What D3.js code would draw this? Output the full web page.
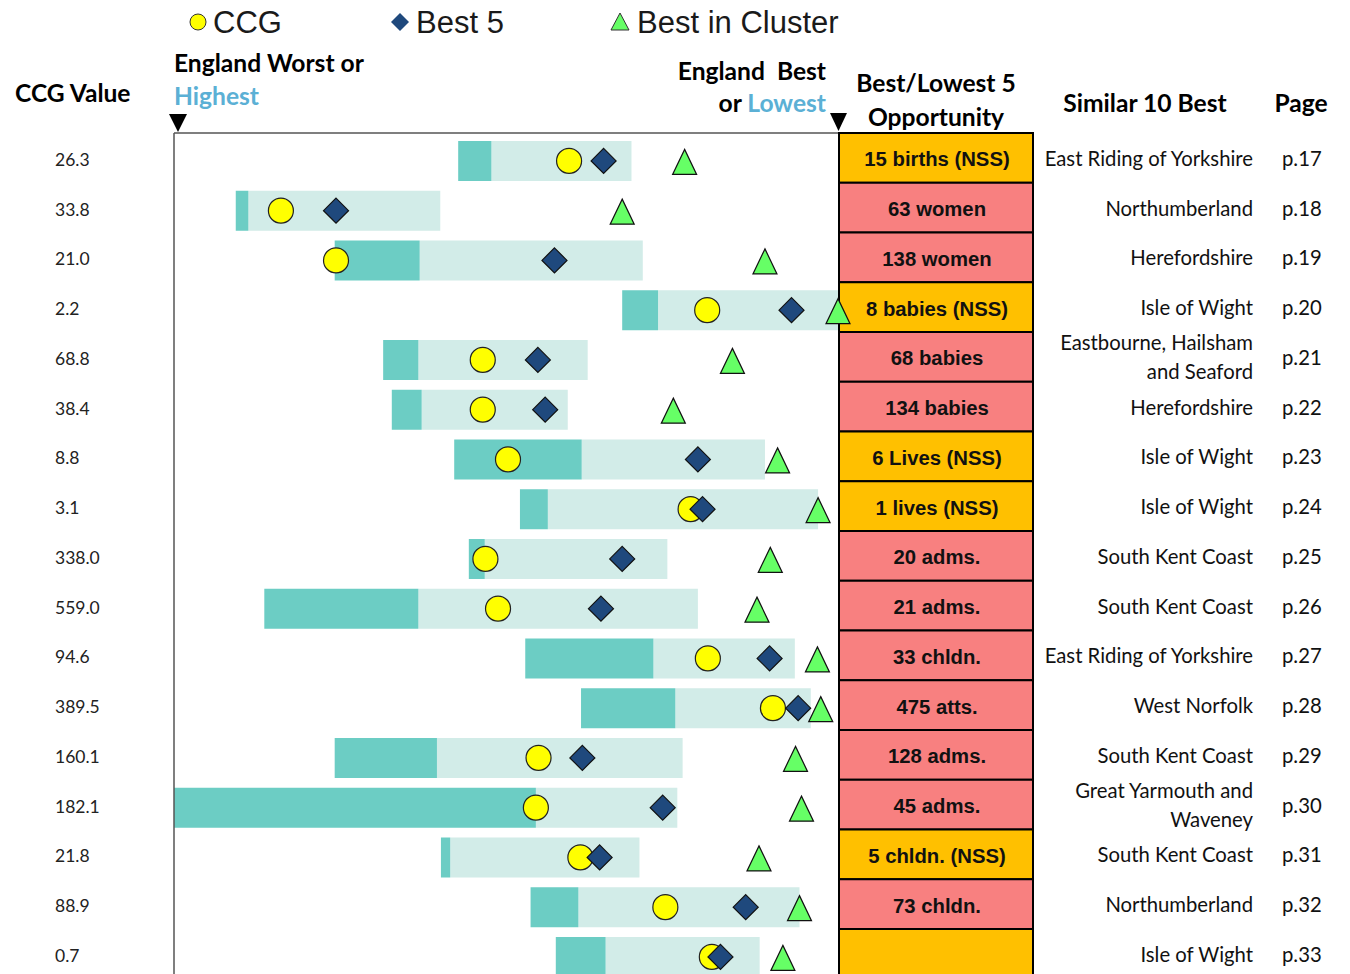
<!DOCTYPE html>
<meta charset="utf-8">
<style>
body {
  margin: 0;
  background: #fff;
}
text {
  font-family: Lato, "Open Sans", sans-serif;
}
.legend, .opp {
  font-family: "Liberation Sans", Arial, sans-serif;
}
</style>
<body>
<script src="https://d3js.org/d3.v7.min.js"></script>
<script>

var width = 1350,
    height = 974;

// values shown in the CCG Value column
var ccgValues = ["26.3", "33.8", "21.0", "2.2", "68.8", "38.4", "8.8", "3.1", "338.0",
  "559.0", "94.6", "389.5", "160.1", "182.1", "21.8", "88.9", "0.7"];

// positions on a 0 (England worst) .. 100 (England best) scale
var barStart = [42.8, 9.3, 24.2, 67.5, 31.5, 32.8, 42.2, 52.1, 44.4, 13.6, 52.9, 61.3, 24.2, 0.0, 40.2, 53.7, 57.5];
var barMid   = [47.8, 11.2, 37.0, 72.9, 36.8, 37.3, 61.4, 56.3, 46.8, 36.8, 72.2, 75.5, 39.6, 54.5, 41.6, 60.9, 65.0];
var barEnd   = [68.9, 40.1, 70.6, 100, 62.3, 59.3, 89.0, 97.0, 74.3, 78.9, 93.5, 95.9, 76.6, 75.8, 70.1, 94.2, 88.2];
var ccg      = [59.5, 16.1, 24.4, 80.3, 46.5, 46.5, 50.3, 77.8, 46.9, 48.8, 80.4, 90.2, 54.9, 54.5, 61.2, 74.0, 81.0];
var best5    = [64.7, 24.4, 57.3, 93.0, 54.8, 55.9, 78.9, 79.6, 67.5, 64.3, 89.7, 94.0, 61.5, 73.6, 64.1, 86.1, 82.3];
var bestCluster = [76.9, 67.5, 89.0, 100, 84.1, 75.2, 90.9, 97.0, 89.8, 87.8, 96.9, 97.4, 93.6, 94.5, 88.1, 94.2, 91.7];

var opportunity = ["15 births (NSS)", "63 women", "138 women", "8 babies (NSS)", "68 babies",
  "134 babies", "6 Lives (NSS)", "1 lives (NSS)", "20 adms.", "21 adms.", "33 chldn.",
  "475 atts.", "128 adms.", "45 adms.", "5 chldn. (NSS)", "73 chldn.", ""];
var nss = [true, false, false, true, false, false, true, true, false, false, false,
  false, false, false, true, false, true];

var similar = [["East Riding of Yorkshire"], ["Northumberland"], ["Herefordshire"], ["Isle of Wight"],
  ["Eastbourne, Hailsham", "and Seaford"], ["Herefordshire"], ["Isle of Wight"], ["Isle of Wight"],
  ["South Kent Coast"], ["South Kent Coast"], ["East Riding of Yorkshire"], ["West Norfolk"],
  ["South Kent Coast"], ["Great Yarmouth and", "Waveney"], ["South Kent Coast"], ["Northumberland"],
  ["Isle of Wight"]];
var pages = ["p.17", "p.18", "p.19", "p.20", "p.21", "p.22", "p.23", "p.24", "p.25", "p.26",
  "p.27", "p.28", "p.29", "p.30", "p.31", "p.32", "p.33"];

var rows = d3.range(ccgValues.length);

var x = d3.scaleLinear()
  .domain([0, 100])
  .range([174, 838]);

var y = d3.scaleBand()
  .domain(rows)
  .range([133, 133 + 49.75 * rows.length]);

var bh = y.bandwidth();
function cy(i) { return y(i) + bh / 2 + 3; }

var svg = d3.select("body").append("svg")
    .attr("width", width)
    .attr("height", height);

// bars
var bars = svg.append("g");
bars.selectAll(".light")
    .data(rows)
  .enter().append("rect")
    .attr("x", function(i) { return x(barMid[i]); })
    .attr("y", function(i) { return y(i) + 8; })
    .attr("width", function(i) { return x(barEnd[i]) - x(barMid[i]); })
    .attr("height", 40)
    .attr("fill", "#d2ece8");
bars.selectAll(".dark")
    .data(rows)
  .enter().append("rect")
    .attr("x", function(i) { return x(barStart[i]); })
    .attr("y", function(i) { return y(i) + 8; })
    .attr("width", function(i) { return x(barMid[i]) - x(barStart[i]); })
    .attr("height", 40)
    .attr("fill", "#6ccdc4");

// frame
svg.append("line")
    .attr("x1", 174).attr("x2", 174)
    .attr("y1", 133).attr("y2", height)
    .attr("stroke", "#555").attr("stroke-width", 1.5);
svg.append("line")
    .attr("x1", 174).attr("x2", 838)
    .attr("y1", 133).attr("y2", 133)
    .attr("stroke", "#555").attr("stroke-width", 1.5);

// opportunity boxes
var boxes = svg.append("g");
boxes.selectAll("rect")
    .data(rows)
  .enter().append("rect")
    .attr("x", 839)
    .attr("y", function(i) { return y(i); })
    .attr("width", 194)
    .attr("height", bh)
    .attr("fill", function(i) { return nss[i] ? "#ffc000" : "#f88080"; })
    .attr("stroke", "#000")
    .attr("stroke-width", 2);
boxes.selectAll("text")
    .data(rows)
  .enter().append("text")
    .attr("class", "opp")
    .attr("x", 937)
    .attr("y", function(i) { return y(i) + bh / 2 + 8.5; })
    .attr("text-anchor", "middle")
    .attr("font-size", 20.3)
    .attr("font-weight", "bold")
    .attr("fill", "#111")
    .text(function(i) { return opportunity[i]; });

// markers
var marks = svg.append("g");
marks.selectAll("circle")
    .data(rows)
  .enter().append("circle")
    .attr("cx", function(i) { return x(ccg[i]); })
    .attr("cy", cy)
    .attr("r", 12.5)
    .attr("fill", "#ffff00")
    .attr("stroke", "#222")
    .attr("stroke-width", 1.2);

var diamond = "M0,-12.5L12.5,0L0,12.5L-12.5,0Z";
var triangle = "M0,-12.5L12,12.5L-12,12.5Z";

marks.selectAll(".diamond")
    .data(rows)
  .enter().append("path")
    .attr("class", "diamond")
    .attr("d", diamond)
    .attr("transform", function(i) { return "translate(" + x(best5[i]) + "," + cy(i) + ")"; })
    .attr("fill", "#1f497d")
    .attr("stroke", "#111")
    .attr("stroke-width", 1.2);

marks.selectAll(".tri")
    .data(rows)
  .enter().append("path")
    .attr("class", "tri")
    .attr("d", triangle)
    .attr("transform", function(i) { return "translate(" + x(bestCluster[i]) + "," + (cy(i) + 1) + ")"; })
    .attr("fill", "#66ff66")
    .attr("stroke", "#111")
    .attr("stroke-width", 1.2);

// left value column
svg.append("g").selectAll("text")
    .data(rows)
  .enter().append("text")
    .attr("x", 55)
    .attr("y", function(i) { return y(i) + bh / 2 + 8; })
    .attr("font-size", 17.5)
    .attr("fill", "#222")
    .text(function(i) { return ccgValues[i]; });

// similar 10 best
var sim = svg.append("g");
rows.forEach(function(i) {
  var lines = similar[i];
  lines.forEach(function(s, k) {
    var off = (k - (lines.length - 1) / 2) * 29;
    sim.append("text")
      .attr("x", 1253)
      .attr("y", y(i) + bh / 2 + 8 + off)
      .attr("text-anchor", "end")
      .attr("font-size", 20.3)
      .attr("fill", "#111")
      .text(s);
  });
});
sim.selectAll(".page")
    .data(rows)
  .enter().append("text")
    .attr("class", "page")
    .attr("x", 1282)
    .attr("y", function(i) { return y(i) + bh / 2 + 8; })
    .attr("font-size", 20.3)
    .attr("fill", "#111")
    .text(function(i) { return pages[i]; });

// headers
function header(tx, ty, anchor, parts) {
  var t = svg.append("text")
    .attr("x", tx).attr("y", ty)
    .attr("text-anchor", anchor)
    .attr("font-size", 24.6)
    .attr("font-weight", "bold")
    .attr("fill", "#000");
  parts.forEach(function(p) {
    t.append("tspan").attr("fill", p[1] || "#000").text(p[0]);
  });
}
header(15, 102, "start", [["CCG Value"]]);
header(174, 72, "start", [["England Worst or"]]);
header(174, 105, "start", [["Highest", "#5bb0d5"]]);
header(826, 80, "end", [["England\u00a0 Best"]]);
header(826, 112, "end", [["or "], ["Lowest", "#5bb0d5"]]);
header(936, 92, "middle", [["Best/Lowest 5"]]);
header(936, 126, "middle", [["Opportunity"]]);
header(1145, 112, "middle", [["Similar 10 Best"]]);
header(1301, 112, "middle", [["Page"]]);

// pointers
svg.append("path").attr("d", "M169,114L187,114L178,132Z").attr("fill", "#000");
svg.append("path").attr("d", "M830,113L847,113L838.5,131Z").attr("fill", "#000");

// legend
var legend = svg.append("g");
legend.append("circle")
    .attr("cx", 198).attr("cy", 22).attr("r", 8)
    .attr("fill", "#ffff00").attr("stroke", "#333").attr("stroke-width", 1);
legend.append("path")
    .attr("d", "M0,-9L9,0L0,9L-9,0Z")
    .attr("transform", "translate(400,22)")
    .attr("fill", "#1f497d");
legend.append("path")
    .attr("d", "M0,-9L9,8L-9,8Z")
    .attr("transform", "translate(620,22)")
    .attr("fill", "#66ff66").attr("stroke", "#333").attr("stroke-width", 1);
[["CCG", 213], ["Best 5", 416], ["Best in Cluster", 637]].forEach(function(d) {
  legend.append("text")
    .attr("class", "legend")
    .attr("x", d[1]).attr("y", 33)
    .attr("font-size", 31)
    .attr("fill", "#1a1a1a")
    .text(d[0]);
});

</script>
